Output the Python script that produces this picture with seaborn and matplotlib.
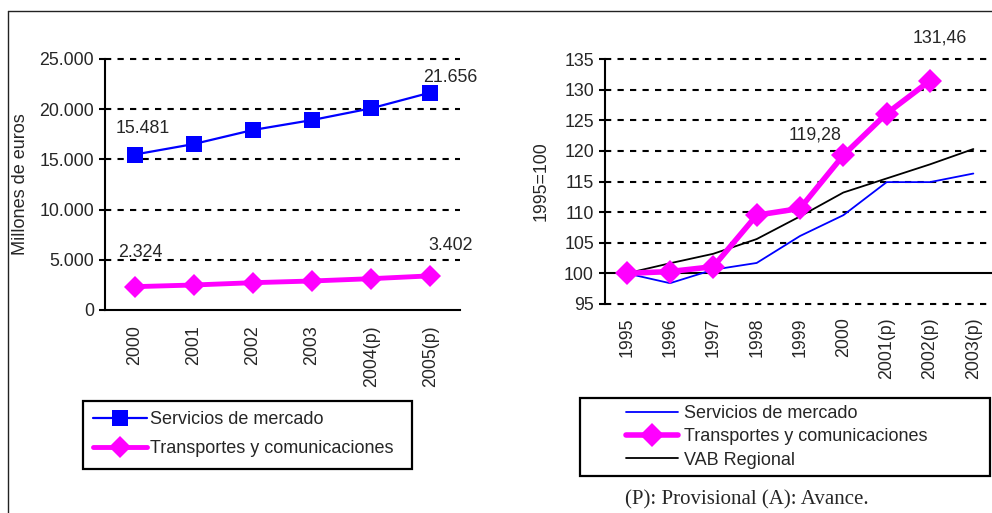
import numpy as np
import pandas as pd
import matplotlib
matplotlib.use("Agg")
import matplotlib.pyplot as plt
from matplotlib.lines import Line2D
from matplotlib.patches import Rectangle
from matplotlib.ticker import FuncFormatter
import seaborn as sns

# datos
anios_izq = ["2000", "2001", "2002", "2003", "2004(p)", "2005(p)"]
servicios_meur = [15481, 16530, 17930, 18920, 20090, 21656]
transportes_meur = [2324, 2490, 2720, 2890, 3120, 3402]

anios_der = ["1995", "1996", "1997", "1998", "1999", "2000", "2001(p)", "2002(p)", "2003(p)"]
servicios_idx = [100, 98.4, 100.6, 101.7, 106.1, 109.5, 114.9, 114.9, 116.3]
transportes_idx = [100, 100.3, 101.1, 109.5, 110.6, 119.28, 126.1, 131.46]
vab_idx = [100, 101.65, 103.2, 105.6, 109.3, 113.2, 115.5, 117.8, 120.3]

sns.set_style("white")
plt.rcParams["font.family"] = ["Liberation Sans", "DejaVu Sans"]

AZUL = "#0000FF"
MAGENTA = "#FF00FF"
FS = 12.8

W, H = 992, 513
fig = plt.figure(figsize=(W / 100, H / 100), dpi=100)

def fx(px):
    return px / W

def fy(py):
    return 1 - py / H

# ---------- grafico izquierdo ----------
ax1 = fig.add_axes([fx(105), fy(310), fx(460) - fx(105), fy(59) - fy(310)])
df_izq = pd.DataFrame({"pos": np.arange(len(anios_izq)),
                       "serv": servicios_meur, "trans": transportes_meur})
ax1.hlines(np.arange(5000, 25001, 5000), -0.5, len(anios_izq) - 0.5, colors="black",
           linestyles=(0, (3, 3)), linewidth=1.5, clip_on=False, zorder=1)
sns.lineplot(data=df_izq, x="pos", y="serv", ax=ax1, color=AZUL, linewidth=1.6,
             marker="s", markersize=12, markeredgewidth=0, label="Servicios de mercado", zorder=3)
sns.lineplot(data=df_izq, x="pos", y="trans", ax=ax1, color=MAGENTA, linewidth=3.5,
             marker="D", markersize=11, markeredgewidth=0,
             label="Transportes y comunicaciones", zorder=3)
ax1.get_legend().remove()
ax1.set_xlim(-0.5, len(anios_izq) - 0.5)
ax1.set_ylim(0, 25000)
ax1.set_yticks(np.arange(0, 25001, 5000))
ax1.yaxis.set_major_formatter(FuncFormatter(lambda v, p: f"{int(v):,}".replace(",", ".")))
ax1.set_xticks(np.arange(len(anios_izq)))
ax1.set_xticklabels(anios_izq, rotation=90, fontsize=FS)
ax1.set_xticks(np.arange(-0.5, len(anios_izq)), minor=True)
ax1.tick_params(axis="x", which="major", length=0, pad=10.8)
ax1.tick_params(axis="x", which="minor", length=4, width=1.5, direction="out", color="black")
ax1.tick_params(axis="y", length=4.5, width=1.5, direction="out", color="black", labelsize=FS, left=True)
ax1.set_xlabel("")
ax1.set_ylabel("Millones de euros", fontsize=FS + 0.3)
ax1.yaxis.set_label_coords(-0.215, 0.5)
for s in ["top", "right"]:
    ax1.spines[s].set_visible(False)
for s in ["left", "bottom"]:
    ax1.spines[s].set_color("black")
    ax1.spines[s].set_linewidth(1.5)

etq_izq = [(0, servicios_meur[0], (5.8, 19)), (5, servicios_meur[5], (14.4, 11.2)),
           (0, transportes_meur[0], (4.3, 24.3)), (5, transportes_meur[5], (14.4, 22.2))]
for xi, yi, off in etq_izq:
    ax1.annotate(f"{yi:,}".replace(",", "."), (xi, yi), xytext=off, textcoords="offset points",
                 ha="center", va="center", fontsize=FS)

# ---------- grafico derecho ----------
ax2 = fig.add_axes([fx(605), fy(304), fx(995) - fx(605), fy(59) - fy(304)])
n = len(anios_der)
ax2.spines["bottom"].set_position(("data", 100))
ax2.hlines([95, 105, 110, 115, 120, 125, 130, 135], -0.5, n - 0.5, colors="black",
           linestyles=(0, (3, 3)), linewidth=1.5, clip_on=False, zorder=1)
sns.lineplot(x=np.arange(n), y=servicios_idx, ax=ax2, color=AZUL, linewidth=1.3,
             label="Servicios de mercado", zorder=3)
sns.lineplot(x=np.arange(len(transportes_idx)), y=transportes_idx, ax=ax2, color=MAGENTA,
             linewidth=4, marker="D", markersize=12, markeredgewidth=0,
             label="Transportes y comunicaciones", zorder=4)
sns.lineplot(x=np.arange(n), y=vab_idx, ax=ax2, color="black", linewidth=1.3,
             label="VAB Regional", zorder=3)
ax2.get_legend().remove()
ax2.set_xlim(-0.5, n - 0.5)
ax2.set_ylim(95, 135)
ax2.set_yticks(np.arange(95, 136, 5))
ax2.set_xticks(np.arange(n))
ax2.set_xticklabels(anios_der, rotation=90, fontsize=FS)
ax2.set_xticks(np.arange(-0.5, n), minor=True)
ax2.tick_params(axis="x", which="major", length=0, pad=31.5)
ax2.tick_params(axis="x", which="minor", length=4, width=1.5, direction="out", color="black")
ax2.tick_params(axis="y", length=4.5, width=1.5, direction="out", color="black", labelsize=FS, left=True)
ax2.set_xlabel("")
ax2.set_ylabel("1995=100", fontsize=FS)
ax2.yaxis.set_label_coords(-0.143, 0.5)
for s in ["top", "right"]:
    ax2.spines[s].set_visible(False)
for s in ["left", "bottom"]:
    ax2.spines[s].set_color("black")
    ax2.spines[s].set_linewidth(1.5)

etq_der = [(5, transportes_idx[5], (-20.5, 14.6)), (7, transportes_idx[7], (7.2, 30.7))]
for xi, yi, off in etq_der:
    ax2.annotate(f"{yi:.2f}".replace(".", ","), (xi, yi), xytext=off, textcoords="offset points",
                 ha="center", va="center", fontsize=FS)

# ---------- leyendas ----------
fig.add_artist(Rectangle((fx(83), fy(469)), fx(412) - fx(83), fy(401) - fy(469),
                         transform=fig.transFigure, fill=False, edgecolor="black", linewidth=1.6))
h1, l1 = ax1.get_legend_handles_labels()
fig.legend(h1, l1, loc="upper left", bbox_to_anchor=(fx(93), fy(411)), frameon=False,
           fontsize=13, handlelength=3.0, handletextpad=0.15, labelspacing=0.68,
           borderpad=0, borderaxespad=0)

fig.add_artist(Rectangle((fx(580), fy(476)), fx(990) - fx(580), fy(398) - fy(476),
                         transform=fig.transFigure, fill=False, edgecolor="black", linewidth=1.6))
h2, l2 = ax2.get_legend_handles_labels()
fig.legend(h2, l2, loc="upper left", bbox_to_anchor=(fx(626), fy(405)), frameon=False,
           fontsize=13, handlelength=2.9, handletextpad=0.3, labelspacing=0.35,
           borderpad=0, borderaxespad=0)

fig.text(fx(625), fy(500), "(P): Provisional (A): Avance.", ha="left", va="center",
         fontsize=15, family=["Liberation Serif", "DejaVu Serif"])

# marco exterior
fig.add_artist(Line2D([fx(7.5), fx(7.5)], [0, fy(11)], transform=fig.transFigure,
                      color="#222222", linewidth=1.0))
fig.add_artist(Line2D([fx(7.5), 1], [fy(11), fy(11)], transform=fig.transFigure,
                      color="#222222", linewidth=1.0))

fig.savefig("out.png", dpi=100)
